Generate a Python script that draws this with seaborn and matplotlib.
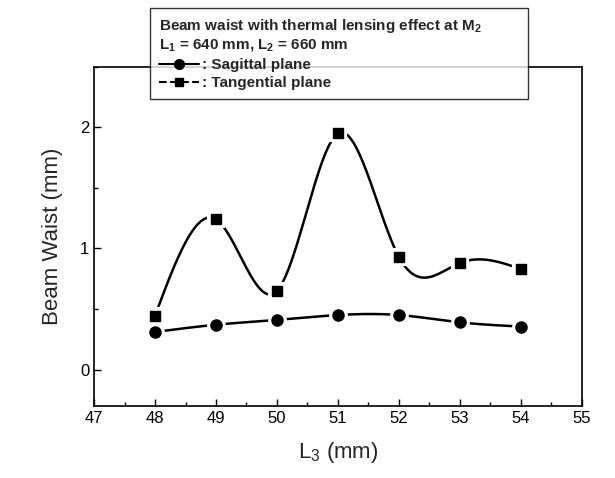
# Imports
import numpy as np
import pandas as pd
import matplotlib
matplotlib.use("Agg")
import matplotlib.pyplot as plt
import seaborn as sns
from matplotlib.lines import Line2D
from matplotlib.ticker import MultipleLocator

# data
l3_mm = [48, 49, 50, 51, 52, 53, 54]
sagittal = [0.31, 0.37, 0.41, 0.45, 0.45, 0.39, 0.355]
tangential = [0.445, 1.24, 0.65, 1.95, 0.93, 0.88, 0.83]

x_ticks = [47, 48, 49, 50, 51, 52, 53, 54, 55]
y_ticks = [0, 1, 2]


#
def natural_spline(x, y, n=300):
    # plain natural cubic spline, only used to draw the connecting curve
    x = np.asarray(x, float)
    y = np.asarray(y, float)
    k = len(x)
    h = np.diff(x)
    A = np.zeros((k, k))
    b = np.zeros(k)
    A[0, 0] = A[-1, -1] = 1
    for i in range(1, k - 1):
        A[i, i - 1] = h[i - 1]
        A[i, i] = 2 * (h[i - 1] + h[i])
        A[i, i + 1] = h[i]
        b[i] = 6 * ((y[i + 1] - y[i]) / h[i] - (y[i] - y[i - 1]) / h[i - 1])
    M = np.linalg.solve(A, b)
    xs = np.linspace(x[0], x[-1], n)
    idx = np.clip(np.searchsorted(x, xs) - 1, 0, k - 2)
    x0, x1 = x[idx], x[idx + 1]
    hh = x1 - x0
    t0, t1 = x1 - xs, xs - x0
    ys = (M[idx] * t0**3 + M[idx + 1] * t1**3) / (6 * hh) \
        + (y[idx] / hh - M[idx] * hh / 6) * t0 \
        + (y[idx + 1] / hh - M[idx + 1] * hh / 6) * t1
    return xs, ys


sns.set_style("ticks")
plt.rcParams['font.family'] = ['Liberation Sans', 'DejaVu Sans']
plt.rcParams['mathtext.fontset'] = 'custom'
plt.rcParams['mathtext.rm'] = 'Liberation Sans'
plt.rcParams['mathtext.bf'] = 'Liberation Sans:bold'

fig = plt.figure(figsize=(6.15, 4.78), dpi=100)
ax = fig.add_axes([0.153, 0.151, 0.793, 0.709])

for vals, mk in [(sagittal, 'o'), (tangential, 's')]:
    xs, ys = natural_spline(l3_mm, vals)
    sns.lineplot(x=xs, y=ys, ax=ax, color='black', lw=1.8, sort=False,
                 estimator=None, zorder=2)
    ax.plot(l3_mm, vals, ls='none', marker=mk, ms=10.5 if mk == 'o' else 9.5,
            color='black', mec='white', mew=3, zorder=3)
    ax.plot(l3_mm, vals, ls='none', marker=mk, ms=8 if mk == 'o' else 7,
            color='black', zorder=4)

ax.set_xlim(47, 55)
ax.set_ylim(-0.3, 2.5)
ax.set_xticks(x_ticks)
ax.set_yticks(y_ticks)
ax.xaxis.set_minor_locator(MultipleLocator(0.5))
ax.yaxis.set_minor_locator(MultipleLocator(0.5))
ax.tick_params(which='both', direction='in', top=False, right=False,
               labelsize=12, color='black', labelcolor='black')
ax.tick_params(which='major', length=5, width=1)
ax.tick_params(which='minor', length=3, width=1)
for s in ax.spines.values():
    s.set_visible(True)
    s.set_color('black')
    s.set_linewidth(1.2)

ax.set_xlabel(r'L$_3$ (mm)', fontsize=16, labelpad=10)
ax.set_ylabel('Beam Waist (mm)', fontsize=16, labelpad=12)

handles = [
    Line2D([], [], color='black', lw=1.5, marker='o', ms=7),
    Line2D([], [], color='black', lw=1.5, ls='--', marker='s', ms=6),
]
labels = [': Sagittal plane', ': Tangential plane']
title = ('Beam waist with thermal lensing effect at M$_\\mathbf{2}$\n'
         'L$_\\mathbf{1}$ = 640 mm, L$_\\mathbf{2}$ = 660 mm')
leg = ax.legend(handles, labels, title=title, loc='upper left',
                bbox_to_anchor=(0.115, 1.174, 0.774, 0.0), mode='expand',
                borderaxespad=0, alignment='left',
                frameon=True, fancybox=False, edgecolor='black',
                prop={'weight': 'bold', 'size': 11}, handlelength=2.6,
                handletextpad=0.2, labelspacing=0.25, borderpad=0.6,
                numpoints=1)
leg.get_title().set_fontweight('bold')
leg.get_title().set_fontsize(11)
leg.get_title().set_linespacing(1.25)
leg.get_frame().set_linewidth(1)
leg.set_zorder(10)

fig.savefig('out.png', dpi=100)
